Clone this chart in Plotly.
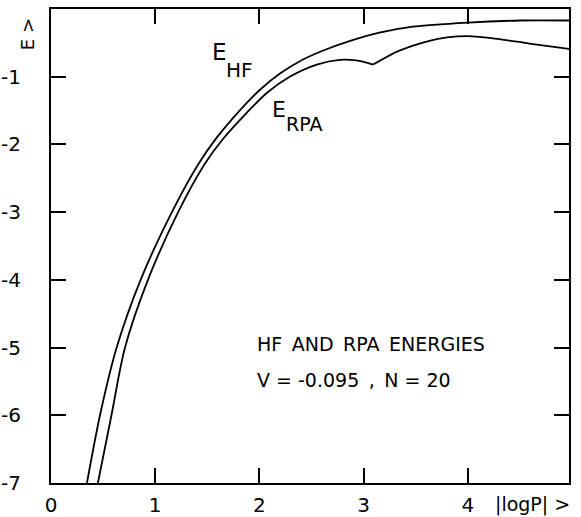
import plotly.graph_objects as go

# |logP| values and energies
hf_x = [0.345, 0.47, 0.63, 0.86, 1.16, 1.41, 1.59, 1.81, 2.0, 2.2, 2.4, 2.6, 2.87, 3.15, 3.47, 4.0, 4.5, 4.97]
hf_e = [-7.0, -6.0, -5.0, -4.0, -3.0, -2.30, -1.90, -1.50, -1.20, -0.95, -0.76, -0.62, -0.47, -0.35, -0.26, -0.20, -0.17, -0.17]

rpa_x = [0.45, 0.58, 0.71, 0.93, 1.22, 1.47, 1.65, 1.88, 2.07, 2.29, 2.55, 2.77, 2.93, 3.09, 3.15, 3.32, 3.63, 3.8, 4.0, 4.28, 4.59, 4.97]
rpa_e = [-7.0, -6.0, -5.0, -4.0, -3.0, -2.30, -1.92, -1.53, -1.24, -1.0, -0.82, -0.75, -0.76, -0.82, -0.77, -0.63, -0.47, -0.42, -0.40, -0.44, -0.51, -0.59]
rpa_cusp = 13  # index of the kink in the RPA curve

x_ticks = [0, 1, 2, 3, 4]
x_ticklabels = ["0", "1", "2", "3", "4"]
y_ticks = [-7, -6, -5, -4, -3, -2, -1]
y_ticklabels = ["-7", "-6", "-5", "-4", "-3", "-2", "-1"]

FONT = "DejaVu Sans"
fig = go.Figure()
line = dict(color="black", width=1.8, shape="spline", smoothing=0.8)
fig.add_trace(go.Scatter(x=hf_x, y=hf_e, mode="lines", line=line,
                         showlegend=False, hoverinfo="skip"))
fig.add_trace(go.Scatter(x=rpa_x[:rpa_cusp + 1], y=rpa_e[:rpa_cusp + 1], mode="lines", line=line,
                         showlegend=False, hoverinfo="skip"))
fig.add_trace(go.Scatter(x=rpa_x[rpa_cusp:], y=rpa_e[rpa_cusp:], mode="lines", line=line,
                         showlegend=False, hoverinfo="skip"))

axis_common = dict(showgrid=False, zeroline=False, showline=True, linecolor="black", linewidth=2,
                   ticks="inside", ticklen=15, tickwidth=2, tickcolor="black",
                   automargin=False, tickmode="array", mirror="ticks",
                   tickfont=dict(family=FONT, size=20, color="black"))

fig.update_xaxes(range=[0, 4.97], tickvals=x_ticks, ticktext=x_ticklabels,
                 ticklabelstandoff=3, **axis_common)
fig.update_yaxes(range=[-7, 0], tickvals=y_ticks, ticktext=y_ticklabels,
                 ticklabelstandoff=24, **axis_common)

ann_font = dict(family=FONT, color="black")
annotations = [
    dict(x=1.62, y=-0.63, text="E", font=dict(size=23, **ann_font)),
    dict(x=1.81, y=-0.90, text="HF", font=dict(size=20, **ann_font)),
    dict(x=2.19, y=-1.48, text="E", font=dict(size=22, **ann_font)),
    dict(x=2.43, y=-1.70, text="RPA", font=dict(size=19, **ann_font)),
    dict(x=1.96, y=-4.95, text="HF\u2002AND\u2002RPA\u2002ENERGIES", xanchor="left",
         font=dict(size=19, **ann_font)),
    dict(x=1.96, y=-5.48, text="V = -0.095\u2002,\u2002N = 20", xanchor="left",
         font=dict(size=19, **ann_font)),
]
for a in annotations:
    a.setdefault("xanchor", "center")
    a.update(xref="x", yref="y", showarrow=False, yanchor="middle")
annotations += [
    dict(xref="paper", yref="paper", x=0.853, y=-0.0464, text="|logP| >", xanchor="left",
         yanchor="middle", showarrow=False, font=dict(size=19, **ann_font)),
    dict(xref="paper", yref="paper", x=-0.0463, y=0.947, text="E >", textangle=-90,
         xanchor="center", yanchor="middle", showarrow=False, font=dict(size=18, **ann_font)),
]
fig.update_layout(annotations=annotations)

fig.update_layout(width=581, height=517, margin=dict(l=51, r=12, t=9, b=34),
                  paper_bgcolor="white", plot_bgcolor="white")

fig.write_html("out.html")
